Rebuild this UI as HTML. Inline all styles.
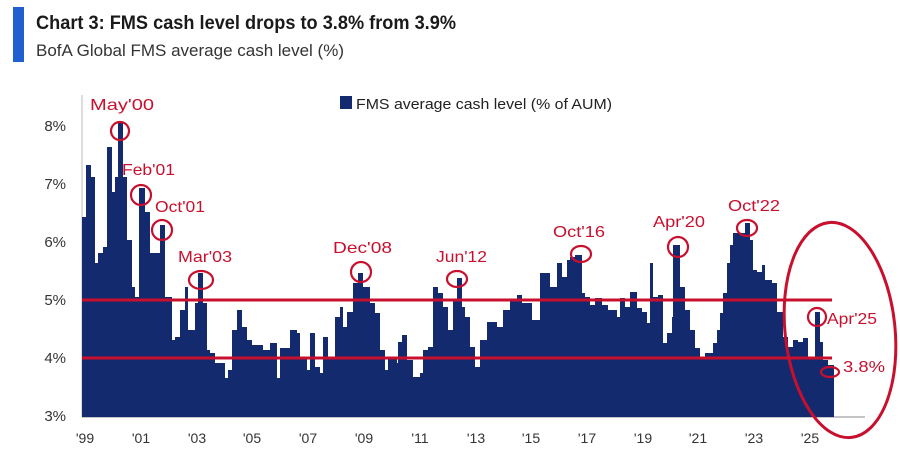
<!DOCTYPE html>
<html><head><meta charset="utf-8"><style>
html,body{margin:0;padding:0;background:#fff;}
svg{display:block;font-family:"Liberation Sans",sans-serif;}
</style></head><body>
<svg width="900" height="462" viewBox="0 0 900 462" xmlns="http://www.w3.org/2000/svg">
<rect x="13" y="7" width="11" height="55" fill="#1f5fcf"/>
<text x="36" y="29" font-size="19" font-weight="bold" fill="#1a1a1a" textLength="420" lengthAdjust="spacingAndGlyphs">Chart 3: FMS cash level drops to 3.8% from 3.9%</text>
<text x="36" y="56" font-size="17" fill="#333" textLength="308" lengthAdjust="spacingAndGlyphs">BofA Global FMS average cash level (%)</text>
<rect x="340" y="96" width="12" height="13" fill="#142a6e"/>
<text x="356" y="109" font-size="15" fill="#222" textLength="256" lengthAdjust="spacingAndGlyphs">FMS average cash level (% of AUM)</text>
<g font-size="15" fill="#333" text-anchor="end">
<text x="66" y="131">8%</text><text x="66" y="189">7%</text><text x="66" y="247">6%</text>
<text x="66" y="305">5%</text><text x="66" y="363">4%</text><text x="66" y="421">3%</text>
</g>
<g font-size="14" fill="#333" text-anchor="middle">
<text x="85" y="443">'99</text><text x="141" y="443">'01</text><text x="197" y="443">'03</text><text x="252" y="443">'05</text><text x="308" y="443">'07</text><text x="364" y="443">'09</text><text x="420" y="443">'11</text><text x="476" y="443">'13</text><text x="531" y="443">'15</text><text x="587" y="443">'17</text><text x="643" y="443">'19</text><text x="698" y="443">'21</text><text x="754" y="443">'23</text><text x="810" y="443">'25</text>
</g>
<line x1="82" y1="95" x2="82" y2="417" stroke="#bbb" stroke-width="1"/>
<line x1="82" y1="417" x2="865" y2="417" stroke="#888" stroke-width="1"/>
<path fill="#142a6e" d="M82,417 V217 H86 V165 H91 V177 H95 V263 H98 V253 H103 V247 H107 V147 H112 V192 H115 V177 H118 V123 H123 V177 H127 V240 H132 V287 H135 V297 H139 V188 H145 V212 H150 V253 H160 V225 H165 V297 H172 V340 H175 V337 H180 V310 H185 V287 H188 V330 H195 V303 H198 V273 H203 V303 H207 V350 H210 V353 H215 V363 H225 V378 H228 V370 H232 V330 H237 V310 H242 V327 H247 V340 H252 V345 H263 V350 H270 V343 H277 V378 H280 V348 H290 V330 H297 V333 H300 V357 H307 V370 H310 V333 H315 V367 H320 V373 H323 V337 H328 V357 H335 V317 H340 V307 H343 V327 H347 V312 H353 V283 H358 V273 H363 V287 H370 V303 H375 V313 H380 V350 H385 V370 H388 V357 H397 V363 H398 V342 H402 V335 H407 V360 H413 V377 H420 V373 H423 V350 H428 V347 H433 V287 H438 V293 H443 V307 H448 V330 H453 V300 H457 V278 H462 V307 H465 V317 H470 V347 H475 V367 H480 V340 H487 V322 H497 V327 H503 V310 H510 V300 H517 V295 H522 V303 H532 V320 H540 V273 H550 V287 H557 V263 H562 V277 H567 V260 H570 V257 H575 V255 H582 V293 H585 V297 H590 V305 H595 V298 H602 V305 H608 V310 H617 V317 H620 V298 H625 V307 H630 V292 H637 V308 H642 V312 H647 V323 H650 V263 H653 V297 H658 V295 H663 V343 H667 V333 H672 V317 H673 V245 H680 V287 H685 V310 H690 V330 H695 V348 H700 V357 H705 V353 H713 V343 H717 V330 H720 V313 H723 V293 H727 V263 H730 V245 H733 V233 H745 V223 H750 V240 H753 V270 H757 V272 H762 V265 H765 V280 H772 V283 H777 V312 H783 V337 H788 V347 H793 V340 H798 V342 H803 V338 H808 V357 H815 V312 H820 V342 H823 V360 H828 V365 H834 V417 Z"/>
<g stroke="#c8102e" fill="none">
<line x1="82" y1="300" x2="832" y2="300" stroke-width="3"/>
<line x1="82" y1="358" x2="832" y2="358" stroke-width="3"/>
<g stroke-width="2.2">
<circle cx="120" cy="131" r="9"/>
<circle cx="141" cy="195" r="10"/>
<circle cx="162" cy="230" r="10"/>
<ellipse cx="201" cy="280" rx="12" ry="9"/>
<circle cx="361" cy="272" r="10"/>
<ellipse cx="457" cy="279" rx="10" ry="8"/>
<ellipse cx="581" cy="254" rx="10" ry="8"/>
<circle cx="678" cy="247" r="10"/>
<ellipse cx="747" cy="228" rx="10" ry="8"/>
<circle cx="817" cy="317" r="9"/>
<ellipse cx="830" cy="372" rx="9" ry="5"/>
<ellipse cx="840" cy="330" rx="55" ry="108" stroke-width="3" transform="rotate(-6 840 330)"/>
</g>
</g>
<g font-size="16" fill="#c8102e">
<text x="90" y="110" textLength="64" lengthAdjust="spacingAndGlyphs">May'00</text>
<text x="122" y="175" textLength="53" lengthAdjust="spacingAndGlyphs">Feb'01</text>
<text x="155" y="212" textLength="50" lengthAdjust="spacingAndGlyphs">Oct'01</text>
<text x="178" y="262" textLength="54" lengthAdjust="spacingAndGlyphs">Mar'03</text>
<text x="333" y="253" textLength="59" lengthAdjust="spacingAndGlyphs">Dec'08</text>
<text x="436" y="262" textLength="51" lengthAdjust="spacingAndGlyphs">Jun'12</text>
<text x="553" y="237" textLength="52" lengthAdjust="spacingAndGlyphs">Oct'16</text>
<text x="653" y="227" textLength="52" lengthAdjust="spacingAndGlyphs">Apr'20</text>
<text x="728" y="211" textLength="52" lengthAdjust="spacingAndGlyphs">Oct'22</text>
<text x="827" y="324" textLength="50" lengthAdjust="spacingAndGlyphs">Apr'25</text>
<text x="843" y="372" textLength="42" lengthAdjust="spacingAndGlyphs">3.8%</text>
</g>
</svg>
</body></html>
